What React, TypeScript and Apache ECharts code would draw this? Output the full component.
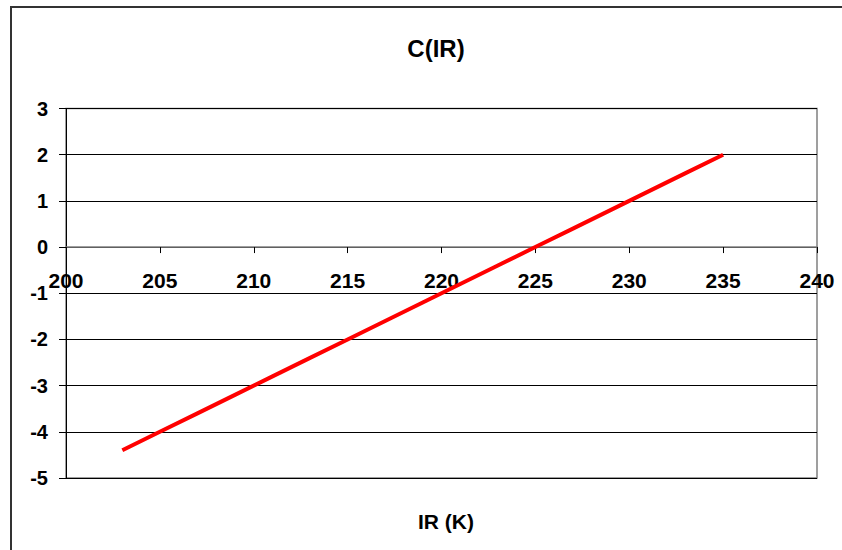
import React, { useEffect, useRef } from "react";
import * as echarts from "echarts";

const irValues = [203, 205, 207, 209, 211, 213, 215, 217, 219, 221, 223, 225, 227, 229, 231, 233, 235];
const cValues = [-4.4, -4.0, -3.6, -3.2, -2.8, -2.4, -2.0, -1.6, -1.2, -0.8, -0.4, 0.0, 0.4, 0.8, 1.2, 1.6, 2.0];
const titleText = "C(IR)";
const xAxisName = "IR (K)";

export default function App() {
  const ref = useRef<HTMLDivElement>(null);
  useEffect(() => {
    if (!ref.current) return;
    const chart = echarts.init(ref.current, null, { renderer: "svg" });
    const font = "Arial, 'Liberation Sans', sans-serif";
    const gridTop = 108.5;
    const gridBottom = 72;
    const plotH = 550 - gridTop - gridBottom;
    const zeroOffset = -(plotH * 5) / 8;
    chart.setOption({
      animation: false,
      backgroundColor: "#ffffff",
      title: [
        {
          text: titleText,
          left: 431,
          top: 31,
          textAlign: "center",
          textStyle: { fontFamily: font, fontWeight: "bold", fontSize: 24, color: "#000" },
        },
        {
          text: xAxisName,
          left: 441,
          top: 506,
          textAlign: "center",
          textStyle: { fontFamily: font, fontWeight: "bold", fontSize: 21, color: "#000" },
        },
      ],
      graphic: [
        {
          type: "rect",
          shape: { x: 11, y: 7, width: 900, height: 600 },
          style: { fill: "none", stroke: "#333", lineWidth: 2 },
          silent: true,
        },
      ],
      grid: {
        left: 66,
        right: 25,
        top: gridTop,
        bottom: gridBottom,
        show: true,
        borderColor: "#808080",
        borderWidth: 1.5,
        backgroundColor: "transparent",
      },
      xAxis: {
        type: "value",
        min: 200,
        max: 240,
        interval: 5,
        position: "bottom",
        offset: zeroOffset,
        axisLine: { show: true, onZero: false, lineStyle: { color: "#808080", width: 1.5 } },
        axisTick: { show: true, inside: false, length: 6, lineStyle: { color: "#000" } },
        axisLabel: { fontFamily: font, fontWeight: "bold", fontSize: 21, color: "#000", margin: 23 },
        splitLine: { show: false },
      },
      yAxis: {
        type: "value",
        min: -5,
        max: 3,
        interval: 1,
        axisLine: { show: true, onZero: false, lineStyle: { color: "#000", width: 1 } },
        axisTick: { show: true, inside: false, length: 7, lineStyle: { color: "#000" } },
        axisLabel: { fontFamily: font, fontWeight: "bold", fontSize: 20, color: "#000", margin: 18 },
        splitLine: { show: true, lineStyle: { color: "#000", width: 1 } },
      },
      series: [
        {
          type: "line",
          data: irValues.map((x, i) => [x, cValues[i]]),
          showSymbol: false,
          symbol: "none",
          lineStyle: { color: "#ff0000", width: 4 },
          z: 5,
        },
      ],
    });
    return () => chart.dispose();
  }, []);
  return <div ref={ref} style={{ position: "fixed", left: 0, top: 0, width: 842, height: 550 }} />;
}
